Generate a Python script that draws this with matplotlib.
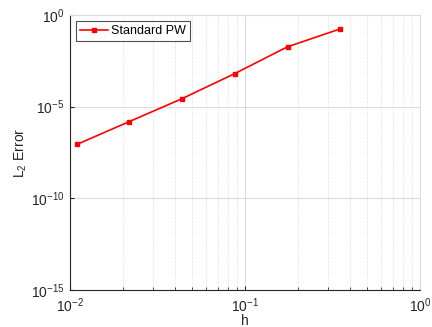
import matplotlib
matplotlib.use("Agg")
import matplotlib.pyplot as plt
from matplotlib.ticker import LogLocator, NullLocator, NullFormatter

plt.rcParams['font.family'] = ['Liberation Sans', 'DejaVu Sans']

h = [0.0109375, 0.021875, 0.04375, 0.0875, 0.175, 0.35]
err = [8.7e-8, 1.55e-6, 2.75e-5, 6.4e-4, 1.85e-2, 0.174]
series_name = "Standard PW"

fig = plt.figure(figsize=(4.32, 3.27), dpi=100)
ax = fig.add_axes([70/432, 1 - 290/327, 350/432, 275/327])

ax.plot(h, err, color='red', lw=1.2, marker='s', markersize=3.5,
        markerfacecolor='red', markeredgecolor='red', label=series_name, zorder=3)

ax.set_xscale('log')
ax.set_yscale('log')
ax.set_xlim(1e-2, 1e0)
ax.set_ylim(1e-15, 1e0)
ax.set_xticks([1e-2, 1e-1, 1e0])
ax.set_yticks([1e-15, 1e-10, 1e-5, 1e0])
ax.xaxis.set_minor_locator(LogLocator(base=10, subs=range(2, 10), numticks=20))
ax.xaxis.set_minor_formatter(NullFormatter())
ax.yaxis.set_minor_locator(NullLocator())

ax.grid(True, which='major', color='#dcdcdc', lw=0.8, ls='-', zorder=0)
ax.grid(True, which='minor', axis='x', color='#cfcfcf', lw=0.6, ls=(0, (1, 2)), zorder=0)
ax.set_axisbelow(True)

for s in ['top', 'right']:
    ax.spines[s].set_color('#dcdcdc')
for s in ['left', 'bottom']:
    ax.spines[s].set_color('#262626')
    ax.spines[s].set_linewidth(0.8)

ax.tick_params(which='both', direction='in', top=False, right=False,
               labelsize=10, colors='#262626', length=3)
ax.tick_params(which='minor', length=2)
ax.tick_params(axis='x', which='major', pad=4.5)
ax.tick_params(axis='y', which='major', pad=4)

ax.set_xlabel('h', fontsize=10, color='#262626', labelpad=-0.5)
ax.set_ylabel(r'$\mathregular{L_2}$ Error', fontsize=10, color='#262626', labelpad=1)

leg = ax.legend(loc='upper left', fontsize=9, frameon=True, fancybox=False,
                edgecolor='#262626', borderpad=0.3, handlelength=2.2,
                handletextpad=0.3, borderaxespad=0.5)
leg.get_frame().set_linewidth(0.8)

fig.savefig('out.png', dpi=100)
